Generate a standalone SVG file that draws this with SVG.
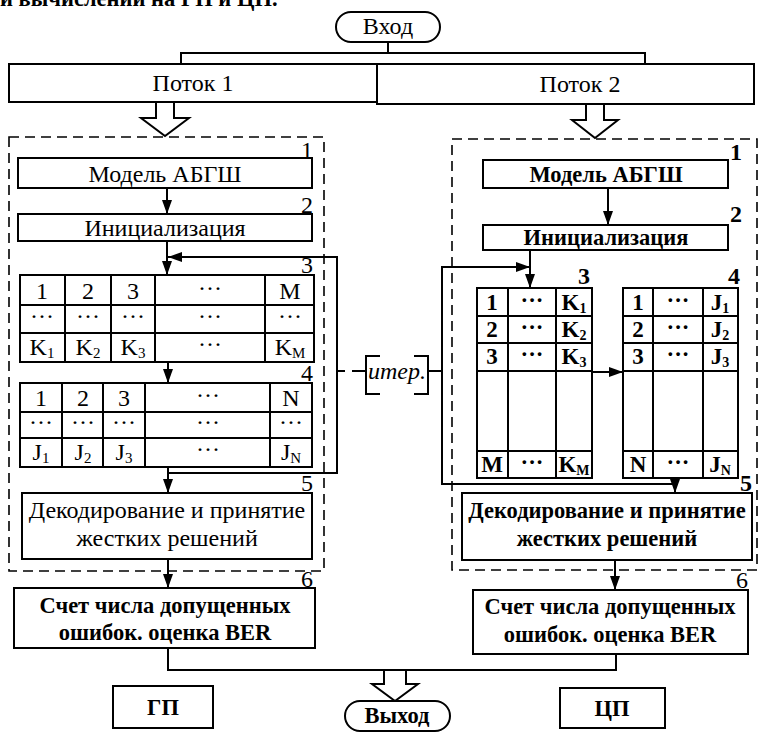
<svg xmlns="http://www.w3.org/2000/svg" width="761" height="734" viewBox="0 0 761 734">
<defs>
<marker id="ah" viewBox="0 0 14 10" refX="14" refY="5" markerWidth="14" markerHeight="10" orient="auto" markerUnits="userSpaceOnUse">
<path d="M0,0 L14,5 L0,10 z" fill="#000"/>
</marker>
<style>
text{font-family:"Liberation Serif","Times New Roman",serif;fill:#000;text-anchor:middle}
.t{font-size:24px}
.b{font-size:22.5px;font-weight:bold}
.n{font-size:24px;text-anchor:end}
.nb{font-size:24px;font-weight:bold;text-anchor:end}
.box{fill:#fff;stroke:#000;stroke-width:2}
.ln{fill:none;stroke:#000;stroke-width:2}
.dash{fill:none;stroke:#000;stroke-width:1.6;stroke-dasharray:10 6}
.ar{fill:none;stroke:#000;stroke-width:2;marker-end:url(#ah)}
.hol{fill:#fff;stroke:#000;stroke-width:2;stroke-linejoin:miter}
.c{font-size:24px}
.cb{font-size:23px;font-weight:bold}
</style>
</defs>
<rect width="761" height="734" fill="#fff"/>
<text x="0" y="6" class="b" style="text-anchor:start">и вычислений на ГП и ЦП.</text>

<g id="connectors">
<path class="ln" d="M388,42 V53 M181,64 V53 H645 V64"/>
<polygon class="hol" points="156,102 156,118 141,118 165,136 189,118 174,118 174,102"/>
<polygon class="hol" points="586,104 586,120 572,120 595,138 618,120 604,120 604,104"/>
<rect class="dash" x="9" y="137" width="315" height="434"/>
<rect class="dash" x="452" y="139" width="305" height="431"/>
<line class="ar" x1="167" y1="188" x2="167" y2="214"/>
<line class="ar" x1="167" y1="241" x2="167" y2="275"/>
<path class="ar" d="M168,473 H337 V257 H168"/>
<line class="ar" x1="168" y1="362" x2="168" y2="383"/>
<line class="ar" x1="168" y1="467" x2="168" y2="493"/>
<line class="ar" x1="168" y1="559" x2="168" y2="588"/>
<line class="ar" x1="608" y1="188" x2="608" y2="225"/>
<line class="ar" x1="530" y1="250" x2="530" y2="288"/>
<path class="ar" d="M442,372 V267 H530"/>
<path class="ar" d="M442,372 V484 H675 V493"/>
<line class="ar" x1="592" y1="372" x2="623" y2="372"/>
<line class="ar" x1="615" y1="560" x2="615" y2="590"/>
<path class="ln" d="M337,371 H345 M352,371 H366 M428,371 H442"/>
<path class="ln" d="M380,356 H366 V394 H380 M414,356 H428 V394 H414"/>
<path class="ln" d="M168,648 V670 H616 V654"/>
<polygon class="hol" points="384,670 384,684 372,684 395,701 418,684 406,684 406,670"/>
</g>

<g id="iter"><text x="397" y="379" class="t" style="font-style:italic">итер.</text></g>

<g id="input"><rect class="box" x="336" y="12" width="104" height="30" rx="15"/><text x="388" y="34" class="t">Вход</text></g>
<g id="potok1"><rect class="box" x="9" y="64" width="368" height="38"/><text x="193" y="91" class="t">Поток 1</text></g>
<g id="potok2"><rect class="box" x="377" y="64" width="377" height="40"/><text x="580" y="92" class="t">Поток 2</text></g>

<g id="l1"><rect class="box" x="18" y="158" width="294" height="30"/><text x="165" y="182" class="t">Модель АБГШ</text><text x="313" y="158" class="n">1</text></g>
<g id="l2"><rect class="box" x="18" y="214" width="294" height="27"/><text x="165" y="236" class="t">Инициализация</text><text x="313" y="213" class="n">2</text></g>
<g id="l3">
<rect class="box" x="20" y="275" width="294" height="87"/>
<path class="ln" d="M20,305 H314 M20,333 H314 M65,275 V362 M111,275 V362 M155,275 V362 M265,275 V362"/>
<text x="42" y="299" class="c">1</text><text x="88" y="299" class="c">2</text><text x="133" y="299" class="c">3</text><text x="210" y="296" class="c">···</text><text x="290" y="299" class="c">M</text>
<text x="42" y="324" class="c">···</text><text x="88" y="324" class="c">···</text><text x="133" y="324" class="c">···</text><text x="210" y="324" class="c">···</text><text x="290" y="324" class="c">···</text>
<text x="42" y="355" class="c">K<tspan font-size="15" dy="3">1</tspan></text><text x="88" y="355" class="c">K<tspan font-size="15" dy="3">2</tspan></text><text x="133" y="355" class="c">K<tspan font-size="15" dy="3">3</tspan></text><text x="210" y="352" class="c">···</text><text x="290" y="355" class="c">K<tspan font-size="15" dy="3">M</tspan></text>
<text x="313" y="273" class="n">3</text>
</g>
<g id="l4">
<rect class="box" x="20" y="383" width="292" height="84"/>
<path class="ln" d="M20,412 H312 M20,438 H312 M62,383 V467 M103,383 V467 M145,383 V467 M270,383 V467"/>
<text x="41" y="406" class="c">1</text><text x="83" y="406" class="c">2</text><text x="124" y="406" class="c">3</text><text x="208" y="403" class="c">···</text><text x="291" y="406" class="c">N</text>
<text x="41" y="430" class="c">···</text><text x="83" y="430" class="c">···</text><text x="124" y="430" class="c">···</text><text x="208" y="430" class="c">···</text><text x="291" y="430" class="c">···</text>
<text x="41" y="460" class="c">J<tspan font-size="15" dy="3">1</tspan></text><text x="83" y="460" class="c">J<tspan font-size="15" dy="3">2</tspan></text><text x="124" y="460" class="c">J<tspan font-size="15" dy="3">3</tspan></text><text x="208" y="457" class="c">···</text><text x="291" y="460" class="c">J<tspan font-size="15" dy="3">N</tspan></text>
<text x="313" y="381" class="n">4</text>
</g>
<g id="l5"><rect class="box" x="22" y="493" width="290" height="66"/><text x="167" y="518" class="t">Декодирование и принятие</text><text x="167" y="546" class="t">жестких решений</text><text x="313" y="491" class="n">5</text></g>
<g id="l6"><rect class="box" x="14" y="588" width="301" height="60"/><text x="165" y="613" class="b">Счет числа допущенных</text><text x="165" y="640" class="b">ошибок. оценка BER</text><text x="313" y="587" class="n">6</text></g>

<g id="r1"><rect class="box" x="483" y="160" width="245" height="28"/><text x="606" y="182" class="b">Модель АБГШ</text><text x="742" y="160" class="nb">1</text></g>
<g id="r2"><rect class="box" x="483" y="225" width="245" height="25"/><text x="606" y="245" class="b">Инициализация</text><text x="742" y="222" class="nb">2</text></g>
<g id="r3">
<rect class="box" x="477" y="288" width="115" height="190"/>
<path class="ln" d="M477,316 H592 M477,343 H592 M477,371 H592 M477,451 H592 M508,288 V478 M556,288 V478"/>
<text x="492" y="310" class="cb">1</text><text x="532" y="308" class="cb">···</text><text x="574" y="310" class="cb">K<tspan font-size="14" dy="3">1</tspan></text>
<text x="492" y="337" class="cb">2</text><text x="532" y="335" class="cb">···</text><text x="574" y="337" class="cb">K<tspan font-size="14" dy="3">2</tspan></text>
<text x="492" y="364" class="cb">3</text><text x="532" y="362" class="cb">···</text><text x="574" y="364" class="cb">K<tspan font-size="14" dy="3">3</tspan></text>
<text x="492" y="472" class="cb">M</text><text x="532" y="470" class="cb">···</text><text x="574" y="472" class="cb">K<tspan font-size="14" dy="3">M</tspan></text>
<text x="590" y="284" class="nb">3</text>
</g>
<g id="r4">
<rect class="box" x="623" y="288" width="115" height="190"/>
<path class="ln" d="M623,316 H738 M623,343 H738 M623,371 H738 M623,451 H738 M653,288 V478 M703,288 V478"/>
<text x="638" y="310" class="cb">1</text><text x="678" y="308" class="cb">···</text><text x="720" y="310" class="cb">J<tspan font-size="14" dy="3">1</tspan></text>
<text x="638" y="337" class="cb">2</text><text x="678" y="335" class="cb">···</text><text x="720" y="337" class="cb">J<tspan font-size="14" dy="3">2</tspan></text>
<text x="638" y="364" class="cb">3</text><text x="678" y="362" class="cb">···</text><text x="720" y="364" class="cb">J<tspan font-size="14" dy="3">3</tspan></text>
<text x="638" y="472" class="cb">N</text><text x="678" y="470" class="cb">···</text><text x="720" y="472" class="cb">J<tspan font-size="14" dy="3">N</tspan></text>
<text x="740" y="284" class="nb">4</text>
</g>
<g id="r5"><rect class="box" x="462" y="493" width="290" height="67"/><text x="607" y="518" class="b">Декодирование и принятие</text><text x="607" y="546" class="b">жестких решений</text><text x="752" y="491" class="nb">5</text></g>
<g id="r6"><rect class="box" x="473" y="590" width="275" height="64"/><text x="610" y="614" class="b">Счет числа допущенных</text><text x="610" y="642" class="b">ошибок. оценка BER</text><text x="748" y="588" class="n">6</text></g>

<g id="output"><rect class="box" x="345" y="701" width="105" height="30" rx="15"/><text x="397" y="723" class="b">Выход</text></g>
<g id="gp"><rect class="box" x="113" y="686" width="100" height="42"/><text x="163" y="715" class="b">ГП</text></g>
<g id="cp"><rect class="box" x="560" y="688" width="105" height="40"/><text x="612" y="716" class="b">ЦП</text></g>
</svg>
